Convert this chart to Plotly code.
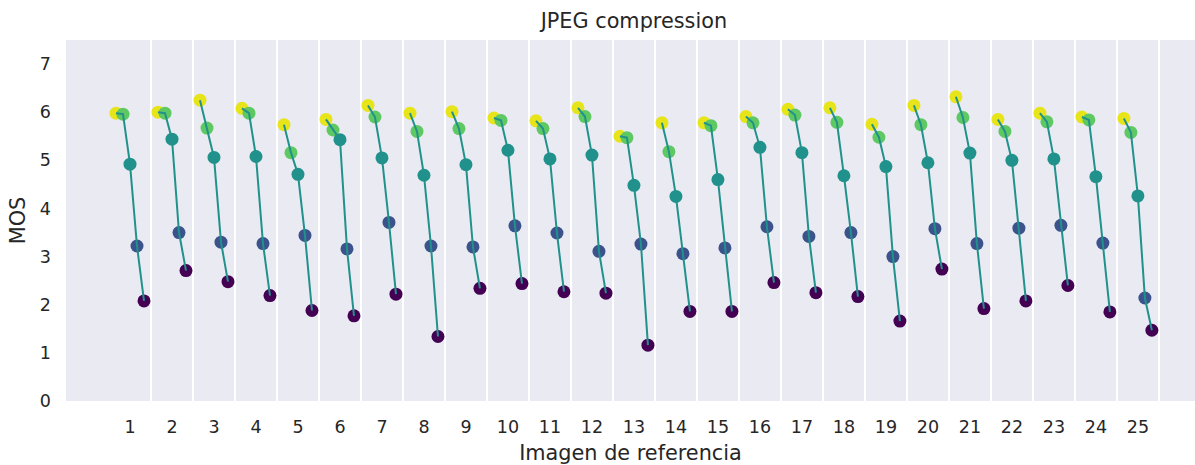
import plotly.graph_objects as go

# Reference images (x categories)
imagenes = list(range(1, 26))

# Mean opinion score per JPEG quality level (best -> worst)
mos_nivel_1 = [5.98, 6.00, 6.25, 6.08, 5.74, 5.85, 6.14, 5.98, 6.01, 5.88, 5.82, 6.09, 5.50,
               5.78, 5.78, 5.91, 6.06, 6.09, 5.75, 6.14, 6.32, 5.85, 5.98, 5.90, 5.87]
mos_nivel_2 = [5.96, 5.98, 5.67, 5.98, 5.16, 5.63, 5.90, 5.60, 5.66, 5.83, 5.66, 5.91, 5.47,
               5.18, 5.72, 5.78, 5.94, 5.79, 5.48, 5.74, 5.89, 5.60, 5.80, 5.84, 5.58]
mos_nivel_3 = [4.92, 5.44, 5.06, 5.08, 4.71, 5.43, 5.05, 4.69, 4.91, 5.21, 5.03, 5.11, 4.48,
               4.25, 4.60, 5.27, 5.16, 4.68, 4.87, 4.95, 5.15, 5.00, 5.03, 4.66, 4.26]
mos_nivel_4 = [3.22, 3.50, 3.30, 3.27, 3.44, 3.16, 3.71, 3.22, 3.20, 3.64, 3.49, 3.11, 3.26,
               3.06, 3.18, 3.62, 3.42, 3.50, 3.00, 3.58, 3.27, 3.59, 3.65, 3.28, 2.14]
mos_nivel_5 = [2.08, 2.71, 2.48, 2.19, 1.88, 1.77, 2.22, 1.34, 2.34, 2.44, 2.27, 2.24, 1.16,
               1.86, 1.86, 2.46, 2.25, 2.17, 1.66, 2.74, 1.92, 2.08, 2.40, 1.85, 1.47]

y_ticks = [0, 1, 2, 3, 4, 5, 6, 7]

niveles = [mos_nivel_1, mos_nivel_2, mos_nivel_3, mos_nivel_4, mos_nivel_5]
colores = ["#e7e419", "#5ec962", "#21918c", "#3b528b", "#440154"]
desplazamientos = [-1 / 3, -1 / 6, 0.0, 1 / 6, 1 / 3]

INK = "#262626"
FONT = "DejaVu Sans"

fig = go.Figure()

# Points, one trace per quality level, shifted around each image position
for serie, color, dx in zip(niveles, colores, desplazamientos):
    fig.add_trace(go.Scatter(
        x=[i + dx for i in imagenes],
        y=serie,
        mode="markers",
        marker=dict(size=13, color=color, line=dict(width=0)),
        showlegend=False,
        hoverinfo="x+y",
    ))

# Connecting line for each reference image, drawn over the points
for k, img in enumerate(imagenes):
    fig.add_trace(go.Scatter(
        x=[img + dx for dx in desplazamientos],
        y=[serie[k] for serie in niveles],
        mode="lines",
        line=dict(color="#21918c", width=2),
        showlegend=False,
        hoverinfo="skip",
    ))

fig.update_layout(
    width=1195,
    height=465,
    margin=dict(l=66, r=0, t=40, b=64),
    paper_bgcolor="white",
    plot_bgcolor="#EAEAF2",
    font=dict(family=FONT, color=INK, size=17.3),
    title=dict(
        text="JPEG compression",
        font=dict(family=FONT, size=20.8, color=INK),
        x=0.503, xref="paper", xanchor="center",
        y=1 - 20.5 / 465, yref="container", yanchor="middle",
    ),
    xaxis=dict(
        range=[-0.524, 26.36],
        tickmode="array",
        tickvals=imagenes,
        ticktext=[str(i) for i in imagenes],
        showgrid=False,
        zeroline=False,
        showline=False,
        ticks="",
        ticklabelstandoff=13,
        tickfont=dict(size=17.5, color=INK),
        minor=dict(
            tickmode="array",
            tickvals=[i + 0.5 for i in imagenes],
            showgrid=True,
            gridcolor="white",
            gridwidth=1.8,
            ticks="",
        ),
        title=dict(text="Imagen de referencia", font=dict(size=20.8, color=INK), standoff=10),
    ),
    yaxis=dict(
        range=[0, 7.5],
        tickmode="array",
        tickvals=y_ticks,
        ticktext=[str(v) for v in y_ticks],
        showgrid=False,
        zeroline=False,
        showline=False,
        ticks="",
        ticklabelstandoff=14,
        tickfont=dict(size=17.5, color=INK),
        title=dict(text="MOS", font=dict(size=20.8, color=INK), standoff=8),
    ),
)

fig.write_html("out.html")
